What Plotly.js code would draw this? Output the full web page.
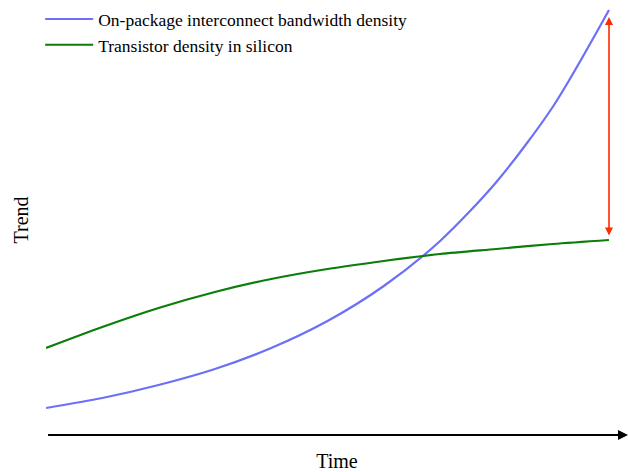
<!DOCTYPE html>
<html>
<head>
<meta charset="utf-8">
<script src="https://cdn.plot.ly/plotly-3.0.1.min.js"></script>
<style>html,body{margin:0;padding:0;background:#fff;}#chart{width:629px;height:472px;}</style>
</head>
<body>
<div id="chart"></div>
<script>
const time = [0, 1, 2, 3, 4, 5, 6, 7, 8, 9, 10];
const bandwidthDensity = [27, 37, 50, 66, 87, 114, 149, 194, 253, 328, 425];
const transistorDensity = [87, 108, 127, 143, 156, 166, 174, 181, 186, 191, 195];
const seriesNames = ['On-package interconnect bandwidth density', 'Transistor density in silicon'];
const xLabel = 'Time';
const yLabel = 'Trend';

const FONT = '"Liberation Serif", "Times New Roman", serif';
const xMax = 10 * 582 / 563;
const last = time.length - 1;

const traces = [
  {x: time, y: bandwidthDensity, name: seriesNames[0], mode: 'lines', line: {color: '#6b70f7', width: 2.2, shape: 'spline', smoothing: 0.8}},
  {x: time, y: transistorDensity, name: seriesNames[1], mode: 'lines', line: {color: '#0a7d0a', width: 2.2, shape: 'spline', smoothing: 0.8}}
];

const layout = {
  width: 629, height: 472,
  margin: {l: 46, r: 1, t: 5, b: 37},
  paper_bgcolor: '#fff', plot_bgcolor: '#fff',
  font: {family: FONT, color: '#000', size: 17.5},
  showlegend: true,
  legend: {x: -0.01, y: 1.009, xanchor: 'left', yanchor: 'top', bgcolor: 'rgba(0,0,0,0)', itemwidth: 48, font: {family: FONT, size: 17.5, color: '#000'}},
  xaxis: {range: [0, xMax], showgrid: false, zeroline: false, showline: false, showticklabels: false, ticks: '',
          title: {text: xLabel, font: {family: FONT, size: 20, color: '#000'}, standoff: 18}},
  yaxis: {range: [0, 430], showgrid: false, zeroline: false, showline: false, showticklabels: false, ticks: '',
          title: {text: yLabel, font: {family: FONT, size: 20, color: '#000'}, standoff: 11}},
  annotations: [
    {x: xMax, y: 0, ax: 0.01, ay: 0, xref: 'x', yref: 'y', axref: 'x', ayref: 'y', text: '', showarrow: true,
     arrowhead: 2, arrowsize: 1, arrowwidth: 2, arrowcolor: '#000'},
    {x: time[last], y: bandwidthDensity[last], ax: time[last], ay: transistorDensity[last], xref: 'x', yref: 'y', axref: 'x', ayref: 'y',
     text: '', showarrow: true, arrowside: 'end+start', arrowhead: 2, startarrowhead: 2, arrowsize: 1, startarrowsize: 1, arrowwidth: 1.6,
     arrowcolor: '#ff2a00', standoff: 7, startstandoff: 3}
  ]
};

Plotly.newPlot('chart', traces, layout, {displayModeBar: false, staticPlot: true});
</script>
</body>
</html>
